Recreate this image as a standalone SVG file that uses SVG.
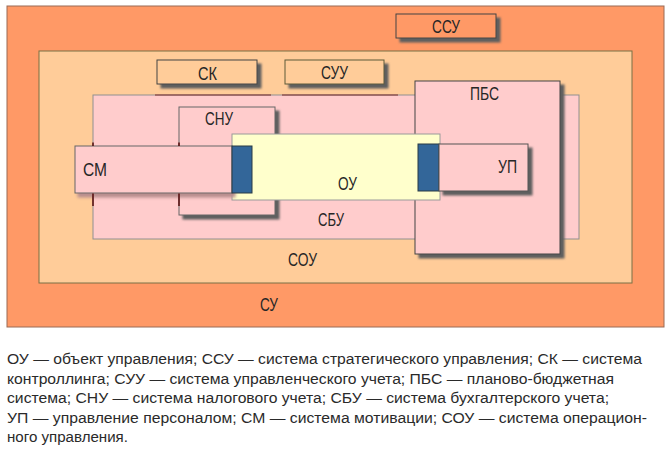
<svg xmlns="http://www.w3.org/2000/svg" width="670" height="453" viewBox="0 0 670 453">
<defs>
<filter id="sh" x="-10%" y="-10%" width="130%" height="140%">
<feOffset in="SourceAlpha" dx="4" dy="4" result="o"/>
<feGaussianBlur in="o" stdDeviation="1.3" result="b"/>
<feFlood flood-color="#5e5e5e"/>
<feComposite in2="b" operator="in" result="s"/>
<feMerge><feMergeNode in="s"/><feMergeNode in="SourceGraphic"/></feMerge>
</filter>
<filter id="shl" x="-10%" y="-10%" width="130%" height="140%">
<feOffset in="SourceAlpha" dx="3" dy="4" result="o"/>
<feGaussianBlur in="o" stdDeviation="1.5" result="b"/>
<feFlood flood-color="#b88e8e"/>
<feComposite in2="b" operator="in" result="s"/>
<feMerge><feMergeNode in="s"/><feMergeNode in="SourceGraphic"/></feMerge>
</filter>
</defs>
<style>
.lbl{font-family:"Liberation Sans",Arial,sans-serif;font-size:19px;fill:#262626;}
.cap{font-family:"Liberation Sans",Arial,sans-serif;font-size:14px;fill:#2a2a2a;}
.pink{fill:#FFCCCC;}
.blue{fill:#336699;stroke:#2a3a44;stroke-width:1;}
.tick{stroke:#550a0a;stroke-width:1.5;}
</style>
<rect width="670" height="453" fill="#ffffff"/>
<g id="su">
<rect x="7" y="6" width="657" height="321" fill="#FF9966" stroke="#9a6a55" stroke-width="1"/>
<text class="lbl" x="260" y="311" textLength="18" lengthAdjust="spacingAndGlyphs">СУ</text>
</g>
<g id="ssu">
<rect x="396" y="14" width="100" height="24" fill="#FF9966" stroke="#444" stroke-width="1" filter="url(#sh)"/>
<text class="lbl" x="432" y="33" textLength="28" lengthAdjust="spacingAndGlyphs">ССУ</text>
</g>
<g id="sou">
<rect x="39" y="51" width="593" height="232" fill="#FFCC99" stroke="#7a7045" stroke-width="1"/>
<text class="lbl" x="288" y="266" textLength="29" lengthAdjust="spacingAndGlyphs">СОУ</text>
</g>
<g id="sk">
<rect x="157" y="60" width="100" height="24" fill="#FFCC99" stroke="#444" stroke-width="1" filter="url(#sh)"/>
<text class="lbl" x="198" y="80" textLength="19" lengthAdjust="spacingAndGlyphs">СК</text>
</g>
<g id="suu">
<rect x="285" y="60" width="99" height="24" fill="#FFCC99" stroke="#5c5a3a" stroke-width="1" filter="url(#sh)"/>
<text class="lbl" x="321" y="79" textLength="27" lengthAdjust="spacingAndGlyphs">СУУ</text>
</g>
<g id="sbu">
<rect x="93" y="95" width="486" height="144" class="pink" stroke="#909090" stroke-width="1"/>
<line x1="155" y1="95" x2="271" y2="95" stroke="#7a2a2a" stroke-width="1"/>
<line x1="282" y1="95" x2="398" y2="95" stroke="#7a2a2a" stroke-width="1"/>
<text class="lbl" x="318" y="226" textLength="26" lengthAdjust="spacingAndGlyphs">СБУ</text>
</g>
<g id="snu">
<rect x="179" y="107" width="96" height="108" class="pink" stroke="#666" stroke-width="1" filter="url(#sh)"/>
<text class="lbl" x="205" y="125" textLength="28" lengthAdjust="spacingAndGlyphs">СНУ</text>
</g>
<g id="pbs">
<rect x="415" y="81" width="145" height="173" class="pink" stroke="#444" stroke-width="1" filter="url(#sh)"/>
<text class="lbl" x="470" y="100" textLength="29" lengthAdjust="spacingAndGlyphs">ПБС</text>
</g>
<g id="ou">
<rect x="232" y="134" width="208" height="66" fill="#FFFFCC" stroke="#9a9a9a" stroke-width="1"/>
<text class="lbl" x="338" y="190" textLength="19" lengthAdjust="spacingAndGlyphs">ОУ</text>
</g>
<g id="sm">
<rect x="75" y="146" width="157" height="47" class="pink" stroke="#666" stroke-width="1" filter="url(#shl)"/>
<text class="lbl" x="83" y="176" textLength="24" lengthAdjust="spacingAndGlyphs">СМ</text>
</g>
<g id="link-sm">
<rect x="232" y="146" width="20" height="47" class="blue"/>
</g>
<g id="link-up">
<rect x="418" y="144" width="21" height="47" class="blue"/>
</g>
<g id="up">
<rect x="439" y="144" width="89" height="47" class="pink" stroke="#555" stroke-width="1" filter="url(#sh)"/>
<text class="lbl" x="498" y="173" textLength="19" lengthAdjust="spacingAndGlyphs">УП</text>
</g>
<g id="ticks">
<line class="tick" x1="93" y1="142.5" x2="93" y2="146"/>
<line class="tick" x1="93" y1="193.5" x2="93" y2="206"/>
<line class="tick" x1="179" y1="142.5" x2="179" y2="146"/>
<line class="tick" x1="179" y1="193.5" x2="179" y2="206"/>
</g>
<g id="connectors"></g>
<g id="caption">
<text class="cap" x="7" y="364" textLength="635" lengthAdjust="spacingAndGlyphs">ОУ — объект управления; ССУ — система стратегического управления; СК — система</text>
<text class="cap" x="7" y="383.5" textLength="607" lengthAdjust="spacingAndGlyphs">контроллинга; СУУ — система управленческого учета; ПБС — планово-бюджетная</text>
<text class="cap" x="7" y="403" textLength="602" lengthAdjust="spacingAndGlyphs">система; СНУ — система налогового учета; СБУ — система бухгалтерского учета;</text>
<text class="cap" x="7" y="422.5" textLength="640" lengthAdjust="spacingAndGlyphs">УП — управление персоналом; СМ — система мотивации; СОУ — система операцион-</text>
<text class="cap" x="7" y="442" textLength="121" lengthAdjust="spacingAndGlyphs">ного управления.</text>
</g>
</svg>
